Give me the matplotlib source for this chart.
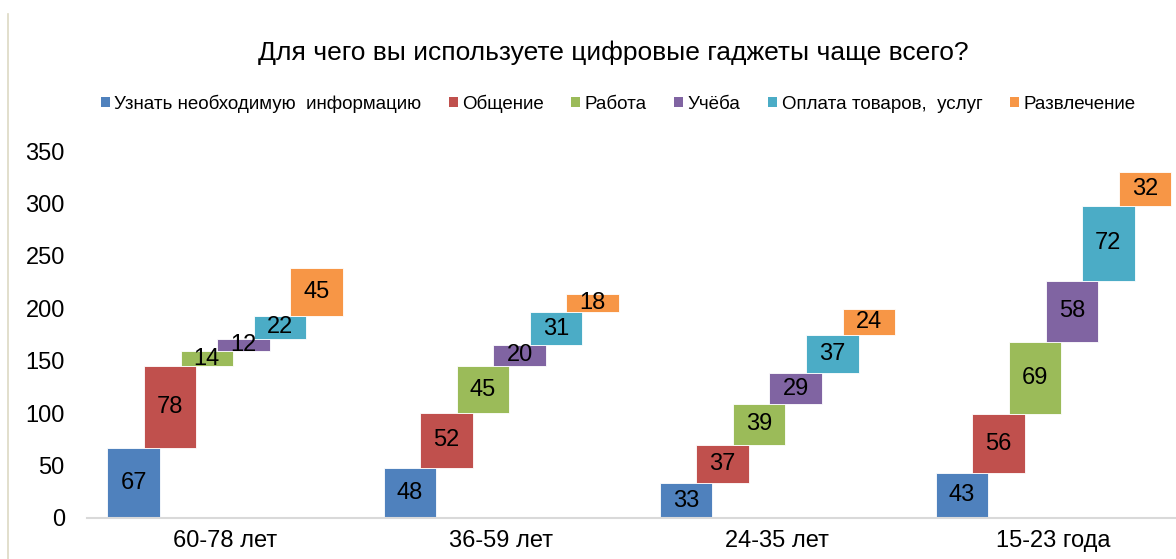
import numpy as np
from matplotlib import pyplot as plt
from matplotlib.patches import Patch
from matplotlib.lines import Line2D

plt.rcParams['font.family'] = ['Liberation Sans', 'DejaVu Sans']

title = "Для чего вы используете цифровые гаджеты чаще всего?"
groups = ["60-78 лет", "36-59 лет", "24-35 лет", "15-23 года"]
series = ["Узнать необходимую  информацию", "Общение", "Работа", "Учёба",
          "Оплата товаров,  услуг", "Развлечение"]
colors = ["#4F81BD", "#C0504D", "#9BBB59", "#8064A2", "#4BACC6", "#F79646"]

# values per age group, in series order
info = [67, 48, 33, 43]
talk = [78, 52, 37, 56]
work = [14, 45, 39, 69]
study = [12, 20, 29, 58]
pay = [22, 31, 37, 72]
fun = [45, 18, 24, 32]
values = np.array([info, talk, work, study, pay, fun])

step = 0.1325
width = 0.19

fig = plt.figure(figsize=(11.76, 5.59), dpi=100)
ax = fig.add_axes([0.07398, 0.07335, 0.9393, 0.6565])

x = np.arange(len(groups))
bottoms = np.zeros(len(groups))
for k in range(len(series)):
    pos = x + (k - 2.5) * step
    ax.bar(pos, values[k], width, bottom=bottoms, color=colors[k],
           edgecolor="white", linewidth=0.6)
    for b, v, base in zip(pos, values[k], bottoms):
        ax.text(b, base + v / 2, str(v), ha="center", va="center", fontsize=17)
    bottoms = bottoms + values[k]

ax.set_xlim(-0.5, 3.5)
ax.set_ylim(0, 350)
ax.set_yticks(np.arange(0, 351, 50))
ax.set_xticks(x)
ax.set_xticklabels(groups)
ax.tick_params(axis="y", length=0, pad=16, labelsize=17)
ax.tick_params(axis="x", length=0, pad=9, labelsize=17)
for s in ["top", "right", "left"]:
    ax.spines[s].set_visible(False)
ax.spines["bottom"].set_color("#D9D9D9")
ax.spines["bottom"].set_linewidth(1.5)

fig.text(613 / 1176, 1 - 60 / 559, title, ha="center", va="baseline", fontsize=19)

handles = [Patch(facecolor=c, edgecolor="none") for c in colors]
fig.legend(handles, series, loc="center", bbox_to_anchor=(618 / 1176, 1 - 103.5 / 559),
           ncol=6, frameon=False, fontsize=13.5, handlelength=0.48,
           handleheight=0.48, handletextpad=0.25, columnspacing=1.45,
           borderpad=0, borderaxespad=0)

fig.add_artist(Line2D([8 / 1176, 8 / 1176], [0, 1 - 14 / 559],
                      transform=fig.transFigure, color="#DDD9C3", linewidth=1.2))

fig.savefig("out.png", dpi=100)
